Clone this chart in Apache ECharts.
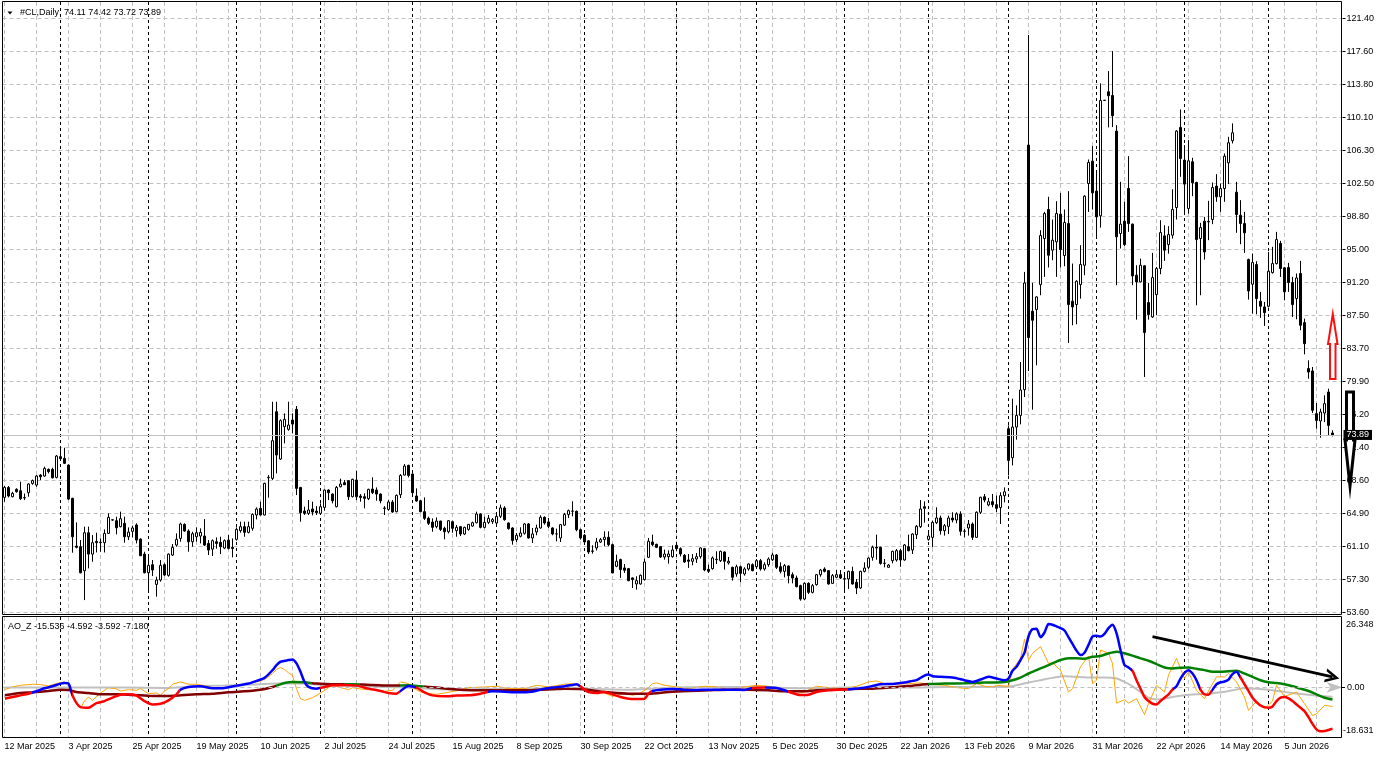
<!DOCTYPE html>
<html>
<head>
<meta charset="utf-8">
<title>#CL Daily</title>
<script src="https://cdn.jsdelivr.net/npm/echarts@6/dist/echarts.min.js"></script>
<style>
    html, body { margin: 0; padding: 0; background: #fff; }
    #chart { width: 1379px; height: 759px; }
</style>
</head>
<body>
<div id="chart"></div>
<script>
(function() {

    'use strict';

    // daily bars, one row per session: [open, high, low, close]
    var bars = [
        [66.76,68.06,66.27,67.90],[67.90,68.06,66.76,66.92],[66.84,67.40,66.76,67.22],[67.68,67.80,67.30,67.41],
        [67.52,68.55,66.46,66.61],[66.70,67.20,66.46,66.75],[67.30,68.36,66.84,68.29],[68.36,68.80,68.20,68.67],
        [68.17,69.30,67.98,69.20],[69.31,69.42,68.74,69.12],[69.20,70.26,69.12,70.07],[69.96,70.07,69.50,69.70],
        [69.96,70.15,68.93,69.00],[69.04,71.60,68.93,71.48],[71.41,72.36,71.10,71.18],[71.22,72.43,70.57,70.65],
        [70.45,70.53,66.46,66.57],[66.65,66.72,60.45,62.27],[61.21,63.91,60.94,61.06],[61.13,61.89,58.09,58.16],
        [58.39,63.42,55.04,62.73],[62.73,63.42,58.66,60.29],[60.29,62.46,59.42,61.59],[61.74,62.73,60.48,61.59],
        [61.60,62.08,60.56,61.65],[61.59,63.11,60.48,62.65],[62.65,64.94,62.58,64.48],[64.20,64.25,64.10,64.18],
        [64.10,64.56,62.54,63.30],[63.42,65.13,63.34,64.33],[63.80,64.56,61.59,62.27],[62.27,63.34,61.89,62.80],
        [62.88,63.53,62.20,63.27],[63.61,63.80,61.51,61.89],[62.00,62.08,60.07,60.10],[60.29,60.56,58.09,58.16],
        [58.16,59.99,56.19,59.00],[59.08,59.61,57.78,58.47],[56.83,57.71,55.43,57.33],[57.33,59.61,57.14,59.00],
        [59.08,59.23,57.78,57.90],[57.86,60.37,57.71,60.29],[60.18,61.44,60.07,61.05],[61.32,62.65,61.13,61.97],
        [62.08,63.87,61.70,63.72],[63.68,63.80,62.84,62.92],[62.92,63.11,60.56,61.70],[61.70,62.84,61.13,62.61],
        [62.27,63.34,61.70,62.73],[62.35,63.23,61.51,62.77],[62.35,64.29,61.21,61.32],[61.51,61.89,60.18,60.75],
        [60.86,61.97,60.07,61.82],[61.70,62.20,60.90,61.51],[61.63,62.27,60.29,61.13],[60.98,61.97,60.86,61.82],
        [61.89,62.46,60.82,60.94],[61.06,62.08,59.92,60.94],[61.97,63.34,61.82,63.11],[62.96,63.99,62.73,63.42],
        [63.42,63.99,62.27,62.77],[62.77,63.99,62.65,63.42],[63.23,64.94,62.96,64.82],[64.75,65.62,64.25,65.43],
        [65.51,66.27,64.70,64.75],[64.75,68.44,64.70,68.36],[69.00,69.31,66.73,69.05],[68.93,77.68,68.74,73.23],
        [76.54,77.68,69.50,71.60],[71.14,75.67,71.03,75.52],[74.83,76.35,72.93,75.67],[74.53,77.68,74.37,75.02],
        [75.59,76.35,74.07,75.13],[76.81,77.19,67.03,67.79],[67.90,67.95,63.99,65.01],[65.20,65.70,64.75,64.94],
        [64.94,66.46,64.75,65.32],[65.43,66.27,64.71,65.09],[65.20,65.77,64.75,65.01],[64.94,66.08,64.86,65.70],
        [65.62,67.68,65.24,67.60],[67.60,67.68,66.46,67.30],[67.14,67.22,66.08,66.38],[65.70,68.06,65.62,67.90],
        [67.98,68.90,67.90,68.29],[68.44,68.74,68.17,68.21],[68.67,68.74,66.46,66.84],[66.84,68.90,66.76,68.82],
        [68.74,69.81,66.46,66.84],[66.92,67.14,66.27,66.76],[66.84,67.22,65.51,66.65],[66.61,67.75,66.46,67.68],
        [67.71,69.05,67.14,67.30],[67.60,67.90,66.38,67.14],[67.14,67.22,66.08,66.38],[65.50,65.77,64.75,65.55],
        [65.39,66.46,65.24,66.23],[66.23,66.46,65.01,65.09],[65.13,67.10,65.05,66.99],[67.07,69.42,66.69,69.27],
        [69.31,70.57,69.27,70.34],[70.42,70.49,69.04,69.27],[69.43,69.50,67.14,67.30],[66.92,67.79,66.27,66.35],
        [66.38,66.46,65.05,65.13],[65.13,66.76,64.18,64.37],[64.37,64.56,63.61,63.80],[63.95,64.37,62.84,63.34],
        [63.42,64.48,63.23,64.06],[64.06,64.10,62.92,63.11],[63.23,63.42,61.97,62.84],[62.84,64.18,62.65,64.10],
        [63.99,64.10,62.73,63.23],[62.96,63.61,62.27,63.34],[63.42,63.50,62.35,62.58],[62.58,63.42,62.46,63.34],
        [63.11,63.72,62.96,63.68],[63.49,63.99,63.42,63.87],[63.87,65.13,63.80,64.86],[64.86,64.94,63.23,63.34],
        [63.34,64.56,63.23,63.91],[63.91,64.75,63.72,64.37],[64.00,64.41,63.73,64.22],[63.84,64.87,63.65,64.60],
        [64.60,65.94,64.41,65.56],[65.56,65.75,64.10,64.22],[63.84,63.90,63.08,63.20],[63.27,63.35,61.37,61.83],
        [61.94,62.70,61.67,62.44],[62.32,63.35,62.20,62.70],[62.66,63.84,62.51,63.73],[63.73,63.84,62.06,62.13],
        [62.13,63.27,61.56,62.59],[62.82,63.65,62.44,63.27],[63.27,64.72,63.20,64.49],[64.49,64.60,63.65,63.84],
        [63.96,64.41,63.27,63.46],[63.27,63.35,62.44,62.59],[62.59,63.20,61.75,62.60],[62.13,63.73,61.67,63.65],
        [63.60,64.99,63.50,64.80],[64.80,65.37,64.41,65.25],[65.18,66.32,64.60,65.20],[65.18,65.25,62.89,63.08],
        [63.08,63.20,61.94,62.13],[62.44,62.59,61.37,61.67],[61.80,61.90,60.30,60.53],[60.60,61.29,60.34,60.65],
        [60.99,62.13,60.70,61.67],[61.67,62.13,61.56,61.94],[61.94,62.89,61.18,62.21],[62.21,62.89,61.18,61.37],
        [61.37,61.48,58.10,58.14],[58.90,60.23,58.79,59.47],[59.66,59.77,57.57,58.52],[58.71,59.16,58.14,58.44],
        [58.63,58.71,57.19,57.26],[57.57,57.64,56.42,57.38],[56.88,57.76,56.23,57.26],[56.88,57.95,56.80,57.87],
        [57.38,59.77,57.26,59.39],[59.92,62.13,59.85,61.75],[61.67,62.51,61.18,61.37],[61.40,61.48,60.99,61.06],
        [61.14,61.20,59.85,59.96],[59.96,60.80,59.66,60.30],[59.99,60.72,59.20,60.30],[59.99,61.29,59.88,60.76],
        [61.29,61.37,60.83,60.91],[60.91,61.06,60.03,60.30],[60.15,60.30,59.28,59.39],[59.62,60.30,58.71,59.47],
        [59.47,60.30,59.01,59.77],[59.73,60.42,59.28,60.00],[60.00,61.06,59.77,60.99],[60.91,61.00,58.33,58.48],
        [58.55,59.09,58.14,58.33],[58.63,60.03,58.52,59.85],[59.66,60.61,59.16,59.70],[59.54,60.68,59.39,60.61],
        [60.53,60.61,58.52,59.47],[59.28,59.96,59.09,59.47],[58.78,58.85,57.26,57.64],[58.02,59.08,57.71,58.85],
        [58.85,58.97,57.07,58.09],[58.02,58.78,57.83,58.59],[58.59,59.23,58.40,59.16],[59.08,59.23,58.32,58.40],
        [58.85,59.73,58.59,59.54],[59.54,59.73,58.40,58.59],[58.59,59.35,58.40,59.08],[59.08,59.92,58.85,59.73],
        [59.65,60.46,59.50,60.19],[60.19,60.30,58.59,58.78],[58.85,59.35,58.09,58.32],[58.32,59.16,57.64,58.97],
        [58.93,59.00,56.95,57.83],[57.94,58.20,56.95,57.56],[57.56,57.83,56.50,56.57],[56.69,56.80,54.97,55.16],
        [55.16,57.07,55.05,56.95],[56.95,57.07,55.73,55.92],[55.92,56.88,55.80,56.69],[56.80,58.02,56.69,57.94],
        [57.94,58.59,57.71,58.47],[58.59,58.78,58.20,58.32],[58.40,58.47,56.80,56.88],[56.95,58.02,56.88,57.83],
        [57.64,58.47,57.56,57.94],[57.94,58.47,57.45,57.56],[57.45,58.02,56.20,57.48],[57.45,58.40,56.31,58.32],
        [58.32,58.85,56.80,56.88],[57.07,57.45,55.73,56.42],[56.42,58.40,56.31,58.32],[58.32,59.35,58.20,58.70],
        [58.78,59.92,58.59,59.84],[59.92,61.26,59.54,61.06],[61.06,62.51,59.65,60.98],[61.06,61.14,59.08,59.23],
        [59.23,59.73,58.78,59.25],[58.78,59.16,58.74,59.04],[59.54,60.68,59.23,60.60],[59.62,60.87,59.43,60.68],
        [60.68,60.87,58.85,59.62],[59.62,61.44,59.54,61.33],[61.14,62.51,60.60,60.68],[60.76,62.66,60.30,62.58],
        [62.51,63.61,62.01,63.46],[63.42,66.46,63.27,65.44],[65.70,66.31,63.87,65.51],[61.97,62.96,61.82,62.35],
        [62.20,64.10,61.06,63.91],[63.87,65.63,63.72,64.41],[64.41,64.68,62.51,62.96],[62.96,63.72,62.40,63.53],
        [63.46,64.68,62.58,64.41],[64.41,65.06,63.91,64.18],[64.18,65.06,63.80,64.87],[64.87,65.17,62.40,62.89],
        [62.89,63.15,62.20,62.92],[63.27,64.18,62.40,63.72],[63.72,63.91,61.90,62.20],[62.20,65.17,62.13,65.06],
        [65.06,66.84,64.87,66.77],[66.84,67.15,66.20,66.46],[65.90,66.70,65.74,66.27],[66.27,67.15,65.63,65.93],
        [65.93,66.96,65.06,65.51],[65.60,67.34,63.72,66.96],[66.96,67.90,66.20,67.40],[74.60,74.98,69.27,70.98],
        [71.29,78.03,70.41,74.79],[74.79,77.27,73.35,76.12],[76.12,82.22,75.10,79.02],[79.06,92.50,78.22,91.24],
        [106.97,119.54,81.19,85.00],[88.01,91.24,76.77,86.98],[88.20,89.72,81.84,89.64],[91.05,97.26,89.84,96.65],
        [96.31,99.35,91.93,99.16],[99.62,101.07,93.00,94.40],[94.98,98.48,93.83,96.12],[95.93,100.57,91.93,99.16],
        [99.09,101.52,93.00,95.05],[94.37,99.62,93.15,98.14],[98.02,101.72,84.39,88.77],[89.15,93.45,86.41,88.50],
        [88.77,91.55,86.52,91.43],[91.05,95.55,89.45,93.34],[93.26,101.26,92.12,101.14],[102.59,105.33,99.35,104.99],
        [105.14,106.86,99.62,101.52],[101.72,103.81,96.50,98.78],[98.90,114.02,97.56,112.07],[112.07,112.12,112.02,112.10],
        [113.06,115.42,108.99,112.61],[112.64,117.71,109.03,110.32],[108.57,109.25,90.98,96.50],[96.88,102.78,95.17,97.95],
        [98.29,100.50,95.43,95.62],[102.02,105.71,97.07,98.02],[97.95,98.02,90.98,92.04],[92.12,93.26,87.05,91.36],
        [91.36,94.02,91.30,93.26],[93.19,93.26,80.51,85.57],[89.00,91.24,87.05,87.63],[87.36,94.67,87.25,91.85],
        [89.91,93.07,87.55,92.88],[92.88,98.40,92.23,96.99],[96.61,97.83,93.76,94.98],[95.62,97.72,94.59,96.76],
        [96.69,101.94,96.31,99.62],[99.85,108.68,98.48,108.57],[108.99,111.04,103.35,105.45],[105.26,106.97,99.16,102.52],
        [99.74,107.54,99.16,105.18],[105.07,105.52,101.14,102.67],[102.71,102.78,88.69,96.19],[96.31,98.10,89.84,97.56],
        [98.29,98.78,93.91,94.78],[98.20,100.61,96.12,98.27],[98.48,102.71,97.95,102.13],[102.29,103.66,100.50,101.07],
        [101.07,102.59,99.35,102.02],[102.02,106.02,100.50,105.71],[104.95,107.92,102.52,107.24],[107.47,109.45,107.16,108.38],
        [101.60,102.78,96.96,99.05],[98.97,100.69,95.66,98.02],[98.02,99.35,94.67,96.96],[93.91,94.02,89.34,90.33],
        [91.09,94.59,87.74,93.57],[93.34,93.72,87.66,89.45],[89.15,90.22,87.25,88.58],[88.50,89.07,86.33,87.85],
        [88.58,94.78,88.43,92.58],[92.42,95.36,92.31,93.45],[93.45,97.07,93.34,96.19],[95.74,96.04,91.93,92.88],
        [92.96,93.07,89.26,90.22],[93.00,93.53,90.22,91.28],[91.28,91.93,87.36,88.77],[89.45,92.31,87.09,91.81],
        [92.31,93.76,85.84,86.41],[86.71,87.17,83.09,84.31],[81.46,82.41,80.31,81.08],[81.19,81.65,76.39,76.70],
        [76.32,77.53,74.60,75.55],[75.48,76.89,73.57,76.51],[76.39,78.41,75.36,77.46],[78.79,79.17,73.84,74.98],
        [74.11,74.42,73.72,73.89]
    ];

    // AO_Z buffers, read as [bar index, value] points
    var aoMain = [
        [0,-4.28],[2,-3.65],[4,-3.02],[6,-2.39],[8,-1.5],[10,-0.37],[12,0.38],[14,1.39],[15,1.64],[16,1.39],[17,-3.02],
        [18,-5.92],[19,-7.43],[21,-7.68],[23,-5.92],[25,-5.16],[27,-3.9],[29,-2.77],[31,-2.64],[33,-3.15],[35,-5.16],
        [37,-6.42],[39,-6.17],[41,-4.91],[43,-2.64],[44,-0.88],[46,0.13],[49,0.38],[52,-0.37],[55,-0.25],[58,0.63],
        [61,1.39],[63,2.4],[65,3.53],[67,6.43],[68,8.32],[69,9.58],[71,10.21],[72,10.46],[73,8.95],[74,5.8],[75,2.02],
        [76,0.13],[78,-0.5],[80,0.13],[82,0.76],[85,0.89],[88,0.63],[91,-0.5],[94,-1.38],[96,-2.14],[98,-2.39],
        [99,-1.38],[101,0.5],[103,-0.12],[105,-1.89],[107,-3.02],[110,-3.4],[113,-3.1],[116,-3.02],[119,-2.39],
        [122,-1.5],[125,-1.63],[128,-1.89],[131,-1.76],[133,-1.26],[135,-0.5],[137,-0.12],[140,0.38],[142,0.89],
        [143,1.14],[144,0.38],[145,-0.88],[146,-1.76],[148,-2.14],[150,-1.76],[152,-2.64],[154,-3.65],[156,-4.28],
        [158,-4.41],[160,-4.28],[161,-2.39],[162,-1.38],[164,-0.88],[167,-0.63],[170,-0.88],[173,-1.0],[176,-0.88],
        [179,-0.88],[182,-0.88],[185,-1.0],[187,-0.25],[190,-0.12],[193,-0.25],[195,-1.13],[197,-2.14],[199,-2.89],
        [201,-2.77],[203,-1.76],[206,-1.13],[209,-0.88],[212,-0.63],[215,-0.12],[217,0.5],[219,1.14],[222,1.26],
        [225,1.77],[227,2.4],[228,2.65],[230,4.41],[231,4.79],[232,4.16],[234,3.91],[237,3.66],[240,2.65],[242,2.02],
        [244,2.9],[246,3.91],[248,3.28],[250,2.65],[251,3.28],[252,6.18],[253,7.69],[254,10.21],[255,12.98],
        [256,19.03],[257,21.8],[258,21.93],[259,18.78],[260,20.54],[261,23.69],[262,23.44],[263,22.81],[264,22.18],
        [265,21.3],[266,18.78],[267,16.26],[268,13.74],[269,12.1],[270,12.98],[271,15.88],[272,19.03],[273,19.28],
        [274,19.03],[275,20.04],[276,22.18],[277,23.44],[278,20.29],[279,13.99],[280,8.32],[281,7.44],[282,6.18],
        [283,2.65],[284,-0.5],[285,-3.65],[286,-5.16],[287,-6.17],[288,-6.42],[289,-5.16],[290,-3.9],[291,-2.64],
        [292,-0.88],[293,0.38],[294,3.28],[295,5.42],[296,6.43],[297,5.17],[298,2.65],[299,-0.88],[300,-2.64],
        [301,-2.77],[302,-0.88],[303,1.14],[304,1.89],[305,2.15],[306,2.9],[307,4.92],[308,5.8],[309,3.66],[310,1.14],
        [311,-1.38],[312,-3.9],[313,-5.54],[314,-6.8],[315,-7.43],[316,-7.68],[317,-7.18],[318,-5.16],[319,-3.9],
        [320,-3.65],[321,-4.15],[322,-5.16],[323,-6.42],[324,-7.68],[325,-8.94],[326,-11.21],[327,-13.73],
        [328,-15.75],[329,-16.5],[330,-16.38],[331,-16.0],[332,-15.54]
    ];
    var aoSignal = [
        [0,-3.02],[4,-2.14],[7,-1.89],[11,-1.38],[14,-0.88],[16,-1.0],[18,-1.76],[21,-2.14],[24,-2.64],[28,-2.64],
        [32,-2.89],[36,-3.15],[40,-3.27],[44,-3.02],[48,-2.64],[52,-2.39],[56,-1.89],[60,-1.5],[64,-0.88],[67,0.13],
        [70,1.64],[72,2.02],[75,1.89],[78,1.39],[82,1.14],[87,1.14],[92,0.89],[97,0.63],[101,0.76],[104,0.38],
        [108,-0.12],[113,-0.8],[120,-1.13],[127,-1.13],[132,-1.0],[137,-0.75],[140,-0.5],[144,-0.63],[148,-1.38],
        [151,-1.89],[156,-2.39],[161,-2.39],[166,-1.76],[171,-1.38],[176,-1.13],[181,-0.88],[186,-0.88],[191,-1.13],
        [195,-1.5],[200,-1.5],[203,-1.13],[208,-0.88],[212,-0.63],[217,-0.5],[221,-0.12],[225,0.38],[227,0.6],
        [229,0.95],[231,1.26],[235,1.39],[240,1.52],[245,1.77],[250,2.02],[252,2.65],[254,3.66],[256,5.17],[258,6.43],
        [260,7.69],[262,8.95],[264,10.21],[266,10.84],[268,10.84],[270,10.71],[272,11.47],[274,11.72],[276,12.73],
        [278,13.36],[280,12.73],[282,11.85],[284,10.84],[286,9.96],[288,8.7],[290,7.44],[292,7.06],[294,7.31],
        [296,7.44],[298,6.93],[300,6.43],[302,5.8],[304,5.8],[306,6.05],[308,6.18],[310,5.17],[312,3.91],[314,2.65],
        [316,1.89],[318,1.64],[320,1.14],[322,0.38],[324,-0.5],[326,-1.38],[328,-2.64],[330,-3.9],[332,-4.59]
    ];
    var aoSlow = [
        [0,-0.12],[10,-0.12],[20,-0.12],[30,-0.12],[40,-0.25],[48,0.38],[55,0.63],[62,1.01],[68,1.39],[74,1.39],
        [80,0.89],[88,0.38],[96,0.13],[104,-0.37],[113,-0.88],[120,-0.63],[130,-0.5],[140,-0.37],[148,-0.63],
        [156,-0.88],[162,-0.5],[170,0],[180,0.13],[190,0],[200,-0.37],[210,-0.12],[220,0],[227,-0.12],[235,0.13],
        [245,0.13],[251,0.25],[253,0.76],[256,1.77],[259,2.65],[262,3.53],[265,4.16],[268,3.91],[271,3.66],[275,3.66],
        [278,3.28],[280,2.02],[282,0.38],[284,-1.76],[286,-3.9],[288,-4.53],[290,-4.28],[292,-3.65],[295,-3.02],
        [298,-2.64],[301,-2.39],[304,-1.89],[307,-1.13],[310,-0.37],[313,-0.5],[316,-0.88],[319,-1.5],[322,-2.14],
        [325,-2.64],[328,-3.15],[332,-3.59]
    ];
    var aoRaw = [
        [0,-0.88],[2,0.13],[4,0.76],[7,1.14],[9,1.01],[11,0.5],[13,1.39],[15,2.02],[16,0.38],[17,-3.65],[18,-5.92],
        [19,-7.81],[20,-5.16],[21,-3.65],[22,-4.91],[24,-2.14],[26,-0.12],[28,-0.63],[29,-1.38],[31,-0.88],[33,-1.13],
        [34,-0.5],[36,-2.39],[38,-2.14],[39,-3.02],[40,-1.38],[41,-0.5],[42,1.14],[44,2.02],[46,1.14],[48,1.14],
        [50,0.63],[52,-0.12],[54,-0.5],[56,0.13],[58,0.76],[61,1.39],[63,2.02],[65,2.9],[67,5.17],[68,6.68],[69,7.44],
        [70,6.68],[71,5.42],[72,4.41],[73,-0.5],[74,-4.28],[75,-4.91],[77,-3.9],[79,-2.14],[81,-0.12],[82,0.76],
        [84,-0.12],[86,-0.88],[87,-0.12],[89,-0.63],[91,-0.88],[93,-1.13],[95,-1.5],[97,-1.13],[99,2.02],[101,1.39],
        [102,-0.12],[104,-1.76],[106,-2.39],[108,-2.64],[110,-2.14],[113,-1.3],[116,-0.12],[120,0.13],[123,0.38],
        [126,-0.5],[130,-0.5],[133,0.76],[136,0.13],[140,1.14],[142,1.39],[145,-0.5],[147,-1.38],[150,-2.14],
        [152,-3.4],[155,-2.14],[157,-3.02],[159,-2.14],[161,-0.12],[162,1.39],[163,1.64],[165,0.76],[168,0.13],
        [171,-0.5],[175,0.38],[178,0.13],[181,-0.88],[185,0.13],[188,0.76],[191,0.38],[195,-0.88],[198,-2.39],
        [200,-1.76],[203,0.38],[206,-0.12],[210,-0.5],[213,0.38],[216,2.02],[218,2.4],[220,1.39],[223,1.14],
        [226,1.39],[229,1.64],[231,1.14],[235,0.76],[238,-0.12],[241,-0.5],[243,1.39],[245,0.38],[247,0.13],
        [248,0.76],[251,0.38],[252,6.68],[254,10.84],[255,18.02],[256,10.21],[257,12.73],[259,15.25],[261,8.95],
        [262,9.2],[264,6.43],[266,-1.76],[267,-0.5],[269,7.69],[271,11.72],[272,1.39],[273,2.65],[274,13.99],
        [276,12.73],[277,8.95],[278,-5.92],[280,-4.66],[281,-5.92],[283,-4.28],[285,-10.2],[286,-6.17],[288,0.76],
        [290,-1.76],[291,4.54],[293,10.84],[295,3.28],[296,5.8],[298,-1.13],[300,-4.28],[301,-1.38],[303,3.91],
        [305,3.91],[306,5.17],[308,2.02],[310,-3.65],[311,-8.69],[313,-5.16],[315,-8.06],[317,-5.16],[318,0.76],
        [320,-3.4],[322,-2.39],[323,-1.76],[325,-6.17],[327,-10.58],[328,-9.95],[330,-6.8],[332,-7.18]
    ];

    // where the main buffer switches red/blue and the signal maroon/green (bar index)
    var mainSwitch = [0, 7, 17, 43.5, 79, 99, 102.5, 121, 144, 161.5, 187, 190, 196, 211, 282, 292, 298.5, 302, 308.5, 400];
    var signalSwitch = [0, 68, 77, 85, 89, 99, 105, 231, 400];

    var lastBar = [74.11, 74.42, 73.72, 73.89];
    var aoLast = ['-15.536', '-4.592', '-3.592', '-7.180'];
    var aoScale = ['26.348', '0.00', '-18.631'];
    var aoMin = -18.631, aoMax = 26.348;
    var priceMin = 53.6, priceMax = 121.4, priceStep = 3.76666667;
    var trendLine = [[287, 19.0], [332, 3.9]];

    var monthNames = ['Jan', 'Feb', 'Mar', 'Apr', 'May', 'Jun', 'Jul', 'Aug', 'Sep', 'Oct', 'Nov', 'Dec'];
    var totalSlots = 335; // two empty slots after the last bar

    // trading days from 12 Mar 2025, weekends and 25 Dec / 1 Jan skipped
    var days = [];
    var d = new Date(2025, 2, 12);
    while (days.length < totalSlots) {
        var wd = d.getDay(), md = (d.getMonth() + 1) * 100 + d.getDate();
        if (wd !== 0 && wd !== 6 && md !== 1225 && md !== 101) {
            days.push(new Date(d.getTime()));
        }
        d.setDate(d.getDate() + 1);
    }
    var dateLabels = days.map(function(x) {
        return x.getDate() + ' ' + monthNames[x.getMonth()] + ' ' + x.getFullYear();
    });

    var FONT = 'Liberation Sans';
    var GREY = '#c0c0c0';

    var candles = bars.map(function(b) { return [b[0], b[3], b[2], b[1]]; });

    function pieces(bounds, c1, c2) {
        var out = [];
        for (var k = 0; k < bounds.length - 1; k++) {
            out.push({ gte: bounds[k], lt: bounds[k + 1], color: k % 2 === 0 ? c1 : c2 });
        }
        return out;
    }

    function isMonthStart(index) {
        return index > 0 && days[index].getMonth() !== days[index - 1].getMonth();
    }

    function merge(a, b) {
        for (var k in b) { a[k] = b[k]; }
        return a;
    }

    // dashed verticals: grey every 8 bars, black at each new month
    function gridAxes(gridIndex) {
        var hidden = { axisLine: { show: false }, axisTick: { show: false }, axisLabel: { show: false } };
        return [
            merge({ type: 'category', gridIndex: gridIndex, data: dateLabels, boundaryGap: false,
                splitLine: { show: true, interval: function(i) { return i % 8 === 0; },
                    lineStyle: { color: GREY, type: [4, 3], width: 1 } } }, hidden),
            merge({ type: 'category', gridIndex: gridIndex, data: dateLabels, boundaryGap: false,
                splitLine: { show: true, interval: isMonthStart,
                    lineStyle: { color: '#000', type: [3, 3], width: 1 } } }, hidden)
        ];
    }

    var xAxes = [
        { type: 'category', gridIndex: 0, data: dateLabels, boundaryGap: true,
          axisLine: { show: false }, axisTick: { show: false }, axisLabel: { show: false }, splitLine: { show: false } },
        { type: 'category', gridIndex: 2, data: dateLabels, boundaryGap: true,
          axisLine: { show: false }, axisTick: { show: false }, splitLine: { show: false },
          axisLabel: { interval: 15, align: 'left', margin: 5, color: '#000', fontSize: 9, fontFamily: FONT } }
    ].concat(gridAxes(1)).concat(gridAxes(3));

    var option = {
        animation: false,
        backgroundColor: '#fff',
        grid: [
            { left: 2.5, top: 18.7, width: 1340, height: 594 },
            { left: 4.5, top: 2, width: 1336, height: 612 },
            { left: 2.5, top: 617, width: 1340, height: 120 },
            { left: 4.5, top: 617, width: 1336, height: 120 }
        ],
        xAxis: xAxes,
        yAxis: [
            { type: 'value', gridIndex: 0, position: 'right', min: priceMin, max: priceMax, interval: priceStep,
              axisLine: { show: false },
              axisTick: { show: true, length: 3, lineStyle: { color: '#000' } },
              axisLabel: { color: '#000', fontSize: 9, fontFamily: FONT, margin: 4,
                  formatter: function(v) { return (Math.floor(v * 10 + 1e-3) / 10).toFixed(2); } },
              splitLine: { show: true, lineStyle: { color: GREY, type: [4, 3] } } },
            { type: 'value', gridIndex: 2, min: aoMin, max: aoMax, show: false },
            { type: 'value', gridIndex: 1, show: false },
            { type: 'value', gridIndex: 3, show: false }
        ],
        visualMap: [
            { show: false, type: 'piecewise', seriesIndex: 4, dimension: 0, pieces: pieces(mainSwitch, '#ff0000', '#0000ff') },
            { show: false, type: 'piecewise', seriesIndex: 3, dimension: 0, pieces: pieces(signalSwitch, '#800000', '#008000') }
        ],
        series: [
            {
                type: 'candlestick',
                xAxisIndex: 0, yAxisIndex: 0,
                data: candles,
                barWidth: 2,
                itemStyle: { color: '#fff', color0: '#000', borderColor: '#000', borderColor0: '#000', borderWidth: 1 },
                markLine: {
                    silent: true, symbol: 'none', animation: false,
                    data: [{ yAxis: lastBar[3] }],
                    lineStyle: { color: GREY, type: 'solid', width: 1 },
                    label: { position: 'end', distance: 1, formatter: lastBar[3].toFixed(2),
                        backgroundColor: '#000', color: '#fff', padding: [1, 3, 0, 3],
                        fontSize: 9, fontFamily: FONT }
                }
            },
            {
                type: 'line', xAxisIndex: 1, yAxisIndex: 1, data: aoSlow, showSymbol: false, smooth: 0.25,
                lineStyle: { color: GREY, width: 2 }, z: 2,
                markLine: {
                    silent: true, animation: false, label: { show: false },
                    data: [
                        { yAxis: 0, symbol: 'none', lineStyle: { color: GREY, type: [4, 3], width: 1 } },
                        [{ coord: trendLine[0], symbol: 'none' },
                         { coord: trendLine[1], symbol: 'path://M5,0 L10,10 L8,10 L5,4 L2,10 L0,10 Z', symbolSize: [14, 14] }]
                    ],
                    lineStyle: { color: '#000', type: 'solid', width: 3 }
                }
            },
            {
                type: 'line', xAxisIndex: 1, yAxisIndex: 1, data: aoRaw, showSymbol: false,
                lineStyle: { color: '#ffa500', width: 1 }, z: 3
            },
            {
                type: 'line', xAxisIndex: 1, yAxisIndex: 1, data: aoSignal, showSymbol: false, smooth: 0.25,
                lineStyle: { width: 2.5 }, z: 4
            },
            {
                type: 'line', xAxisIndex: 1, yAxisIndex: 1, data: aoMain, showSymbol: false, smooth: 0.25,
                lineStyle: { width: 2.5 }, z: 5
            }
        ],
        graphic: [
            // panel frames
            { type: 'rect', z: 100, silent: true, shape: { x: 2.5, y: 1.5, width: 1339, height: 613 },
              style: { fill: 'none', stroke: '#000', lineWidth: 1 } },
            { type: 'rect', z: 100, silent: true, shape: { x: 2.5, y: 616.5, width: 1339, height: 121 },
              style: { fill: 'none', stroke: '#000', lineWidth: 1 } },
            // symbol caption
            { type: 'polygon', z: 100, shape: { points: [[7.5, 11.5], [12.5, 11.5], [10, 14.5]] }, style: { fill: '#000' } },
            { type: 'text', z: 100, x: 20, y: 13,
              style: { text: '#CL,Daily  ' + lastBar.map(function(v) { return v.toFixed(2); }).join(' '),
                  fill: '#000', fontSize: 9, fontFamily: FONT, verticalAlign: 'middle' } },
            { type: 'text', z: 100, x: 8, y: 627,
              style: { text: 'AO_Z ' + aoLast.join(' '), fill: '#000', fontSize: 9, fontFamily: FONT, verticalAlign: 'middle' } },
            // oscillator scale
            { type: 'text', z: 100, x: 1346, y: 625, style: { text: aoScale[0], fill: '#000', fontSize: 9, fontFamily: FONT, verticalAlign: 'middle' } },
            { type: 'text', z: 100, x: 1347, y: 688, style: { text: aoScale[1], fill: '#000', fontSize: 9, fontFamily: FONT, verticalAlign: 'middle' } },
            { type: 'text', z: 100, x: 1343, y: 731, style: { text: aoScale[2], fill: '#000', fontSize: 9, fontFamily: FONT, verticalAlign: 'middle' } },
            { type: 'line', z: 100, shape: { x1: 1342, y1: 687.5, x2: 1345, y2: 687.5 }, style: { stroke: '#000', lineWidth: 1 } },
            // drawn arrows
            { type: 'polygon', z: 1, shape: { points: [[1332.8, 314], [1337.5, 344], [1335.5, 344], [1335.5, 379], [1330, 379], [1330, 344], [1328, 344]] },
              style: { fill: '#fff', stroke: '#ff1010', lineWidth: 2 } },
            { type: 'polygon', z: 1, shape: { points: [[1346.5, 392], [1353.5, 392], [1353.5, 440], [1355, 440], [1350, 486], [1345, 440], [1346.5, 440]] },
              style: { fill: '#fff', stroke: '#000', lineWidth: 3 } }
        ]
    };

    var myChart = echarts.init(document.getElementById('chart'));
    myChart.setOption(option);

})();
</script>
</body>
</html>
